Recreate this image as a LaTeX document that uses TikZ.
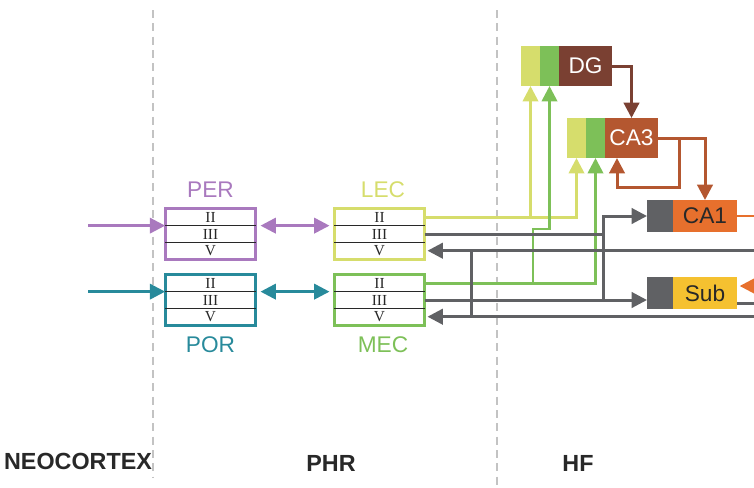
\documentclass[tikz,border=0pt]{standalone}
\usepackage{fontspec}
\setmainfont{Liberation Sans}
\newfontfamily\numfont{Liberation Serif}
\usetikzlibrary{arrows.meta, positioning, fit}
\definecolor{percolor}{RGB}{169,121,190}
\definecolor{porcolor}{RGB}{40,138,155}
\definecolor{leccolor}{RGB}{214,221,108}
\definecolor{meccolor}{RGB}{125,192,88}
\definecolor{dgcolor}{RGB}{122,64,50}
\definecolor{ca3color}{RGB}{180,87,48}
\definecolor{ca1color}{RGB}{231,112,45}
\definecolor{subcolor}{RGB}{245,193,48}
\definecolor{hfgray}{RGB}{96,97,100}
\definecolor{dividergray}{RGB}{195,195,195}
\definecolor{textdark}{RGB}{40,40,40}

\begin{document}
\begin{tikzpicture}[x=0.75pt, y=-0.75pt, >={Triangle[length=11.5pt,width=11.5pt]},
  every node/.style={font=\fontsize{17}{19}\selectfont},
  rowbox/.style={minimum width=68pt, minimum height=12.5pt, inner sep=0pt, outer sep=0pt,
    text=textdark, font=\numfont\fontsize{11.5}{11.5}\selectfont},
  ecbox/.style={inner sep=0pt, line width=2.25pt},
  sepline/.style={line width=1.2pt, textdark},
  cell/.style={minimum height=30pt, inner sep=0pt, outer sep=0pt},
  conn/.style={line width=2pt},
  grayline/.style={line width=2.25pt, hfgray},
  divider/.style={dividergray, line width=1pt, dash pattern=on 6pt off 4pt},
  region/.style={font=\bfseries\fontsize{17.5}{19}\selectfont, text=textdark}]

\useasboundingbox (0,0) rectangle (754,487);

% Region dividers
\draw[divider] (153,10) -- (153,477);
\draw[divider] (497,10) -- (497,487);

% PER and POR
\node[rowbox] at (210.5,217.3) (per2) {II};
\node[rowbox] at (210.5,234) (per3) {III};
\node[rowbox] at (210.5,250.7) (per5) {V};
\node[ecbox, draw=percolor, fit=(per2)(per5)] (per) {};
\draw[sepline] (per2.south west) -- (per2.south east);
\draw[sepline] (per3.south west) -- (per3.south east);
\node[text=percolor] at (210.5,190) (perlab) {PER};

\node[rowbox] at (210.5,283.3) (por2) {II};
\node[rowbox] at (210.5,300) (por3) {III};
\node[rowbox] at (210.5,316.7) (por5) {V};
\node[ecbox, draw=porcolor, fit=(por2)(por5)] (por) {};
\draw[sepline] (por2.south west) -- (por2.south east);
\draw[sepline] (por3.south west) -- (por3.south east);
\node[text=porcolor] at (210.5,345) (porlab) {POR};

% LEC and MEC
\node[rowbox] at (379.5,217.3) (lec2) {II};
\node[rowbox] at (379.5,234) (lec3) {III};
\node[rowbox] at (379.5,250.7) (lec5) {V};
\node[ecbox, draw=leccolor, fit=(lec2)(lec5)] (lec) {};
\draw[sepline] (lec2.south west) -- (lec2.south east);
\draw[sepline] (lec3.south west) -- (lec3.south east);
\node[text=leccolor] at (383,190) (leclab) {LEC};

\node[rowbox] at (379.5,283.3) (mec2) {II};
\node[rowbox] at (379.5,300) (mec3) {III};
\node[rowbox] at (379.5,316.7) (mec5) {V};
\node[ecbox, draw=meccolor, fit=(mec2)(mec5)] (mec) {};
\draw[sepline] (mec2.south west) -- (mec2.south east);
\draw[sepline] (mec3.south west) -- (mec3.south east);
\node[text=meccolor] at (383,345) (meclab) {MEC};

% Hippocampal fields
\node[cell, fill=leccolor, minimum width=14.25pt] at (530.5,66) (dgy) {};
\node[cell, fill=meccolor, minimum width=14.25pt, right=0pt of dgy] (dgg) {};
\node[cell, fill=dgcolor, minimum width=39.75pt, text=white, right=0pt of dgg] (dg) {DG};

\node[cell, fill=leccolor, minimum width=14.25pt] at (576.5,138) (ca3y) {};
\node[cell, fill=meccolor, minimum width=14.25pt, right=0pt of ca3y] (ca3g) {};
\node[cell, fill=ca3color, minimum width=39.75pt, text=white, right=0pt of ca3g] (ca3) {CA3};

\node[cell, fill=hfgray, minimum width=19.5pt, minimum height=24pt] at (660,216) (ca1g) {};
\node[cell, fill=ca1color, minimum width=48pt, minimum height=24pt, text=textdark, right=0pt of ca1g] (ca1) {CA1};

\node[cell, fill=hfgray, minimum width=19.5pt, minimum height=24pt] at (660,293) (subg) {};
\node[cell, fill=subcolor, minimum width=48pt, minimum height=24pt, text=textdark, right=0pt of subg] (sub) {Sub};

% Helper coordinates
\coordinate (perin) at (88,0);
\coordinate (rightedge) at (754,0);
\coordinate (ecsplit) at (603,0);
\coordinate (retjoin) at (471,0);
\coordinate (mecjog) at (533,229);
\coordinate (ca3loop) at (679,187);
\coordinate (subin) at ([yshift=5.25pt]sub.east);
\coordinate (subout) at ([yshift=-7.5pt]sub.east);

% Neocortical inputs
\draw[->, conn, percolor] (perin |- per2.south) -- (per2.south west);
\draw[->, conn, porcolor] (perin |- por2.south) -- (por2.south west);

% PHR connections
\draw[<->, conn, percolor, shorten <=3.5pt, shorten >=3.5pt] (per2.south east) -- (lec2.south west);
\draw[<->, conn, porcolor, shorten <=3.5pt, shorten >=3.5pt] (por2.south east) -- (mec2.south west);

% EC layer II to DG and CA3
\draw[->, conn, leccolor] (lec2.east) -| (ca3y.south);
\draw[->, conn, leccolor] (lec2.east -| dgy.south) -- (dgy.south);
\draw[->, conn, meccolor] (mec2.east) -| (ca3g.south);
\draw[->, conn, meccolor] (mec2.east -| mecjog) -- (mecjog) -| (dgg.south);

% EC layer III to CA1 and Sub
\draw[->, grayline] (lec3.east) -- (lec3.east -| ecsplit) |- (ca1g.west);
\draw[grayline] (lec3.east -| ecsplit) -- (mec3.east -| ecsplit);
\draw[->, grayline] (mec3.east) -- (mec3.east -| subg.west);

% Returns to layer V
\draw[->, grayline, shorten >=2pt] (rightedge |- lec5.east) -- (lec5.east);
\draw[->, grayline, shorten >=2pt] (rightedge |- mec5.east) -- (mec5.east);
\draw[grayline] (retjoin |- lec5.east) -- (retjoin |- mec5.east);

% Trisynaptic loop
\draw[->, conn, line width=2.25pt, dgcolor] (dg.east) -| (ca3.north);
\draw[->, conn, line width=2.25pt, ca3color] (ca3.east) -| (ca1.north);
\draw[->, conn, line width=2.25pt, ca3color] (ca3.east -| ca3loop) -- (ca3loop) -| ([xshift=9pt]ca3.south west);

% CA1 and Sub outputs
\draw[conn, ca1color] (ca1.east) -- (ca1.east -| rightedge);
\draw[->, conn, ca1color, shorten >=2pt] (subin -| rightedge) -- (subin);
\draw[grayline] (subout) -- (subout -| rightedge);

% Region names
\node[region] at (78,461) (neolab) {NEOCORTEX};
\node[region] at (331,463) (phrlab) {PHR};
\node[region] at (578,463) (hflab) {HF};

\end{tikzpicture}
\end{document}
